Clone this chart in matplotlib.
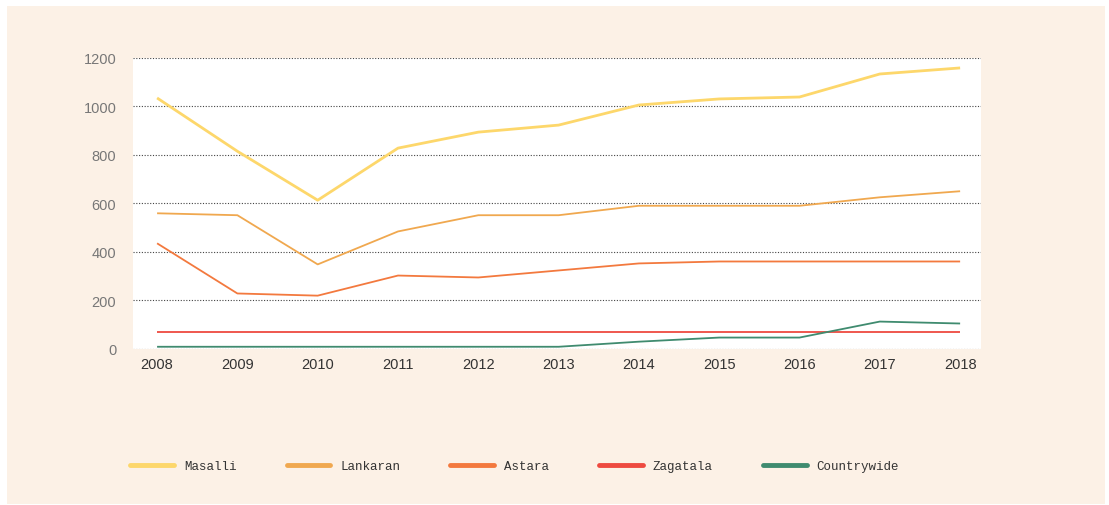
import matplotlib.pyplot as plt
from matplotlib.patches import Rectangle

years = [2008, 2009, 2010, 2011, 2012, 2013, 2014, 2015, 2016, 2017, 2018]
masalli = [1035, 815, 613, 828, 894, 923, 1006, 1031, 1039, 1134, 1159]
lankaran = [559, 551, 348, 484, 551, 551, 590, 590, 590, 625, 650]
astara = [435, 228, 219, 302, 294, 323, 352, 360, 360, 360, 360]
zagatala = [68, 68, 68, 68, 68, 68, 68, 68, 68, 68, 68]
countrywide = [8, 8, 8, 8, 8, 8, 29, 46, 46, 112, 104]

series = [
    ("Masalli", masalli, "#FDD76B", 2.0),
    ("Lankaran", lankaran, "#F0A84F", 1.3),
    ("Astara", astara, "#F3793E", 1.3),
    ("Zagatala", zagatala, "#EE4A40", 1.3),
    ("Countrywide", countrywide, "#3F8B6F", 1.3),
]

cream = "#FCF1E6"
fig = plt.figure(figsize=(11.09, 5.06), dpi=100)
fig.patch.set_facecolor("white")
fig.patches.append(Rectangle((7/1109, 1/506), 1098/1109, 498/506,
                             transform=fig.transFigure, facecolor=cream,
                             edgecolor="none", zorder=-10))

ax = fig.add_axes([133/1109, 156.3/506, 848/1109, 290.7/506])
ax.set_facecolor("white")

handles = []
for name, vals, col, lw in series:
    ax.plot(years, vals, color=col, lw=lw, solid_capstyle="butt")
    h, = ax.plot([], [], color=col, lw=3.5, solid_capstyle="round", label=name)
    handles.append(h)

ax.set_xlim(2007.70, 2018.26)
ax.set_ylim(0, 1200)
ax.set_yticks(range(0, 1201, 200))
ax.set_xticks(years)
ax.yaxis.grid(True, linestyle=(0, (1, 1.5)), color="#444444", lw=0.8)
ax.set_axisbelow(True)
for s in ax.spines.values():
    s.set_visible(False)
ax.tick_params(length=0)
ax.tick_params(axis="y", pad=12, labelsize=10.5, labelcolor="#777777")
ax.tick_params(axis="x", pad=6, labelsize=10.5, labelcolor="#333333")
for lab in ax.get_xticklabels() + ax.get_yticklabels():
    lab.set_fontfamily("Liberation Sans")

fig.legend(handles=handles, loc="center left", bbox_to_anchor=(119/1109, 1 - 467/506),
           ncol=5, frameon=False, prop={"family": "Liberation Mono", "size": 9},
           handlelength=3.5, handletextpad=0.8, columnspacing=4.0, labelcolor="#333333")

fig.savefig("out.png", dpi=100, facecolor=fig.get_facecolor())
